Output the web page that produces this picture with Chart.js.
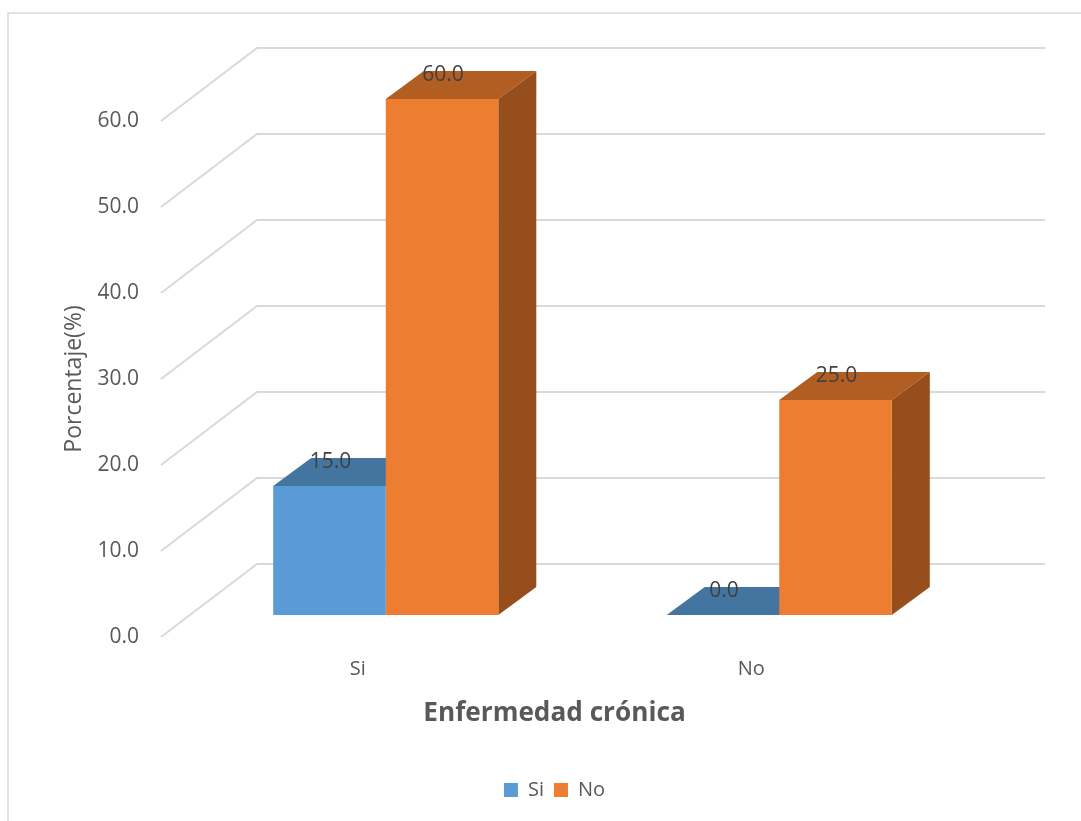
<!DOCTYPE html>
<html lang="es">
<head>
<meta charset="utf-8">
<title>Enfermedad crónica</title>
<script src="https://cdn.jsdelivr.net/npm/chart.js@4/dist/chart.umd.min.js"></script>
<style>
    html, body { margin: 0; padding: 0; background: #fff; overflow: hidden; }
    canvas { display: block; }
</style>
</head>
<body>
<canvas id="chart" width="1081" height="821"></canvas>
<script>
'use strict';

const categories = ['Si', 'No'];
const siValues = [15.0, 0.0];
const noValues = [60.0, 25.0];

const xTitle = 'Enfermedad crónica';
const yTitle = 'Porcentaje(%)';

const fontName = '"Open Sans", sans-serif';
const gridColor = '#d9d9d9';

// depth of the floor and back wall, and of the boxes standing on it
const wallDx = 96, wallDy = 73;
const barDx = 28, barDy = -22;
const boxDx = 38, boxDy = 28;

function drawBoxFaces(chart, ctx, index) {
    const ds = chart.data.datasets[index];
    chart.getDatasetMeta(index).data.forEach(bar => {
        const { x, y, base, width } = bar.getProps(['x', 'y', 'base', 'width'], true);
        const l = x - width / 2, r = x + width / 2;
        ctx.fillStyle = ds.topColor;
        ctx.beginPath();
        ctx.moveTo(l, y);
        ctx.lineTo(l + boxDx, y - boxDy);
        ctx.lineTo(r + boxDx, y - boxDy);
        ctx.lineTo(r, y);
        ctx.closePath();
        ctx.fill();
        ctx.fillStyle = ds.sideColor;
        ctx.beginPath();
        ctx.moveTo(r, y);
        ctx.lineTo(r + boxDx, y - boxDy);
        ctx.lineTo(r + boxDx, base - boxDy);
        ctx.lineTo(r, base);
        ctx.closePath();
        ctx.fill();
    });
}

const wallPlugin = {
    id: 'wall',
    beforeDraw(chart) {
        const ctx = chart.ctx;
        ctx.save();
        ctx.fillStyle = '#fff';
        ctx.fillRect(0, 0, chart.width, chart.height);
        ctx.strokeStyle = gridColor;
        ctx.lineWidth = 1.5;
        ctx.beginPath();
        ctx.moveTo(8, chart.height);
        ctx.lineTo(8, 13);
        ctx.lineTo(chart.width, 13);
        ctx.stroke();
        ctx.restore();
    },
    beforeDatasetsDraw(chart) {
        const ctx = chart.ctx;
        const yScale = chart.scales.y;
        const left = chart.chartArea.left;
        ctx.save();
        ctx.strokeStyle = gridColor;
        ctx.lineWidth = 2;
        yScale.ticks.forEach(tick => {
            const y = yScale.getPixelForValue(tick.value);
            ctx.beginPath();
            ctx.moveTo(left, y);
            ctx.lineTo(left + wallDx, y - wallDy);
            ctx.lineTo(1045, y - wallDy);
            ctx.stroke();
        });
        ctx.restore();
        // boxes stand part way back on the floor; their front faces are the bars
        ctx.save();
        ctx.translate(barDx, barDy);
        chart.data.datasets.forEach((ds, i) => drawBoxFaces(chart, ctx, i));
    },
    afterDatasetsDraw(chart) {
        const ctx = chart.ctx;
        ctx.font = '21px ' + fontName;
        ctx.fillStyle = '#404040';
        ctx.textAlign = 'center';
        ctx.textBaseline = 'middle';
        chart.data.datasets.forEach((ds, i) => {
            chart.getDatasetMeta(i).data.forEach((bar, j) => {
                ctx.fillText(ds.data[j].toFixed(1), bar.x + 1, bar.y - 24);
            });
        });
        ctx.restore();
    }
};

new Chart(document.querySelector('#chart'), {
    type: 'bar',
    plugins: [wallPlugin],
    data: {
        labels: categories,
        datasets: [
            { label: 'Si', data: siValues, backgroundColor: '#5b9bd5', topColor: '#4475a0', sideColor: '#3a6a96' },
            { label: 'No', data: noValues, backgroundColor: '#ed7d31', topColor: '#b25e22', sideColor: '#964f1c' }
        ]
    },
    options: {
        responsive: false,
        animation: false,
        layout: { padding: { left: 30, right: 133, top: 121, bottom: 11 } },
        datasets: { bar: { categoryPercentage: 0.572, barPercentage: 1, clip: false } },
        scales: {
            x: {
                grid: { display: false },
                border: { display: false },
                ticks: { color: '#595959', font: { family: fontName, size: 20 }, padding: 12, maxRotation: 0 },
                title: {
                    display: true,
                    text: xTitle,
                    color: '#595959',
                    font: { family: fontName, size: 26.2, weight: 'bold' },
                    padding: { top: 0, bottom: 41 }
                },
                afterFit(scale) { scale.height = 133; }
            },
            y: {
                min: 0,
                max: 60,
                grid: { display: false },
                border: { display: false },
                ticks: {
                    stepSize: 10,
                    color: '#595959',
                    font: { family: fontName, size: 21 },
                    padding: 14,
                    callback: value => value.toFixed(1)
                },
                title: {
                    display: true,
                    text: yTitle,
                    color: '#595959',
                    font: { family: fontName, size: 23 },
                    padding: { top: 31, bottom: 0 }
                },
                afterFit(scale) { scale.width = 131; }
            }
        },
        plugins: {
            tooltip: { enabled: false },
            legend: {
                position: 'bottom',
                fullSize: false,
                labels: {
                    boxWidth: 14,
                    boxHeight: 14,
                    padding: 10,
                    color: '#595959',
                    font: { family: fontName, size: 20 }
                }
            }
        }
    }
});
</script>
</body>
</html>
